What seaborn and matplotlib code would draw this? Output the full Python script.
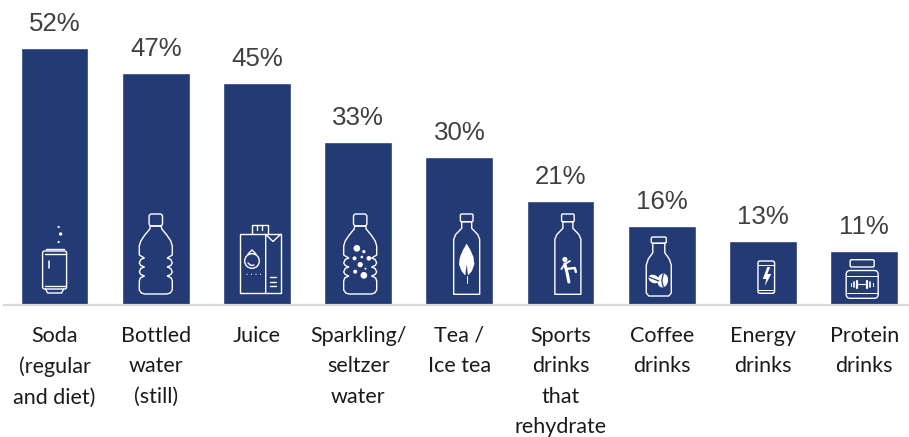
"""
Beverage share bar chart with small white drink icons inside the bars.
"""

import matplotlib
matplotlib.use("Agg")
import matplotlib.pyplot as plt
import seaborn as sns
from matplotlib.patches import Circle, Ellipse, FancyBboxPatch, Polygon
from matplotlib.transforms import Affine2D

CATEGORIES = [
    "Soda\n(regular\nand diet)",
    "Bottled\nwater\n(still)",
    "Juice",
    "Sparkling/\nseltzer\nwater",
    "Tea /\nIce tea",
    "Sports\ndrinks\nthat\nrehydrate",
    "Coffee\ndrinks",
    "Energy\ndrinks",
    "Protein\ndrinks",
]
VALUES = [52, 47, 45, 33, 30, 21, 16, 13, 11]

BAR_COLOR = "#243A75"
LINE_W = 1.0


def outline(ax, tr, pts, closed=False, lw=LINE_W):
    xs = [p[0] for p in pts]
    ys = [p[1] for p in pts]
    if closed:
        xs.append(xs[0])
        ys.append(ys[0])
    ax.plot(xs, ys, color="white", lw=lw, transform=tr, clip_on=False,
            solid_joinstyle="round", solid_capstyle="round")


def box(ax, tr, x0, y0, x1, y1, r=1.5):
    ax.add_patch(FancyBboxPatch((x0 + r, y0 + r), x1 - x0 - 2 * r, y1 - y0 - 2 * r,
                                boxstyle=f"round,pad={r},rounding_size={r}",
                                fc="none", ec="white", lw=LINE_W, transform=tr))


def dot(ax, tr, x, y, r):
    ax.add_patch(Circle((x, y), r, fc="white", ec="none", transform=tr))


def mirrored(half):
    return half + [(-x, y) for x, y in reversed(half)]


def ribbed_bottle(ax, tr):
    box(ax, tr, -6.7, 79, 6.7, 91, r=2.5)
    half = [(5.5, 79), (6, 76), (11, 70), (15, 64), (16.5, 59), (16.5, 50), (14, 48.5),
            (11.5, 47), (15, 45.5), (16.5, 42), (15, 39.5), (11.5, 38), (15, 36.5), (16.5, 33),
            (15, 30.5), (11.5, 29), (15.5, 27), (16.5, 24), (16.5, 15), (14.5, 12), (11, 11)]
    outline(ax, tr, mirrored(half), closed=True)


def soda_icon(ax, tr):
    box(ax, tr, -12, 16, 12, 54, r=2)
    outline(ax, tr, [(-9, 16), (-7, 12), (7, 12), (9, 16)])
    outline(ax, tr, [(-9, 56), (9, 56)])
    outline(ax, tr, [(-10, 19), (10, 19)])
    outline(ax, tr, [(-10, 51), (10, 51)])
    outline(ax, tr, [(-6, 37), (-6, 44)], lw=1.1)
    dot(ax, tr, 4, 63, 1.1)
    dot(ax, tr, 6, 71, 1.7)
    dot(ax, tr, 4, 78, 1.1)


def juice_icon(ax, tr):
    outline(ax, tr, [(-17, 11.7), (23.7, 11.7), (23.7, 70.7), (-17, 70.7)], closed=True)
    outline(ax, tr, [(8.7, 11.7), (8.7, 70.7), (16, 63.5), (23.7, 70.7)])
    outline(ax, tr, [(-4.7, 70.7), (-4.7, 80), (11, 80), (11, 70.7)])
    outline(ax, tr, [(0, 80), (0, 75)])
    outline(ax, tr, [(5, 80), (5, 75)])
    ax.add_patch(Circle((-5, 44), 7.3, fc="none", ec="white", lw=LINE_W, transform=tr))
    outline(ax, tr, [(-9, 51), (-5, 55), (-1, 51)])
    outline(ax, tr, [(-9, 42), (-6, 39.5), (-3, 40)])
    for dx in (-10, -5.5, -1, 3.5):
        dot(ax, tr, dx, 30.7, 0.6)
    for up in (28, 23.3, 18.7):
        outline(ax, tr, [(12.7, up), (19.3, up)])


def sparkling_icon(ax, tr):
    tr2 = Affine2D().translate(2, 0) + tr
    ribbed_bottle(ax, tr2)
    bubbles = [(1072, 142, 10), (1093, 152, 5), (1087, 168, 4), (1065, 172, 6), (1108, 172, 7),
               (1082, 191, 8), (1098, 203, 3), (1067, 212, 6), (1093, 223, 10)]
    for bx, by, br in bubbles:
        dot(ax, tr2, (bx - 1082) / 3, 104 - by / 3, br / 3)


def slim_bottle(ax, tr):
    box(ax, tr, -6.3, 83.3, 6.3, 91, r=1.2)
    half = [(5, 83.3), (5, 76.7), (11, 70.5), (13, 65.7), (13, 10.7)]
    outline(ax, tr, mirrored(half), closed=True)


def tea_icon(ax, tr):
    tr2 = Affine2D().translate(7.3, 0) + tr
    slim_bottle(ax, tr2)
    leaf = [(0, 61), (3.5, 55), (6.5, 48), (7.5, 41), (5, 34), (1.5, 30), (0.3, 40), (-0.3, 40),
            (-1.5, 30), (-5, 34), (-7.5, 41), (-6.5, 48), (-3.5, 55)]
    ax.add_patch(Polygon(leaf, fc="white", ec="white", lw=0.3, transform=tr2))
    outline(ax, tr2, [(0, 29), (0, 22)], lw=0.7)


def sports_icon(ax, tr):
    tr2 = Affine2D().translate(7.3, 0) + tr
    slim_bottle(ax, tr2)
    dot(ax, tr2, -3, 45.5, 2.6)
    outline(ax, tr2, [(-3, 41), (-1, 33), (1, 23)], lw=2.2)
    outline(ax, tr2, [(-2, 36), (7, 37), (8, 33)], lw=1.7)
    outline(ax, tr2, [(-3, 41), (-6.5, 36)], lw=1.3)
    outline(ax, tr2, [(-3, 41), (2, 44)], lw=1.3)


def coffee_icon(ax, tr):
    tr2 = Affine2D().translate(-3, 0) + tr
    box(ax, tr2, -7.5, 61.7, 7.5, 68, r=1.5)
    half = [(6, 61.7), (6, 52.3), (10.5, 46), (12.5, 40), (12.5, 12), (10, 9)]
    outline(ax, tr2, mirrored(half), closed=True)
    ax.add_patch(Ellipse((4, 24.5), 10.5, 14, angle=-10, fc="white", ec="none", transform=tr2))
    ax.plot([4.5, 3, 4.5], [31, 24.5, 18], color=BAR_COLOR, lw=0.9, transform=tr2)
    ax.add_patch(Ellipse((-5, 26), 11, 8, angle=-25, fc="white", ec="none", transform=tr2))
    ax.plot([-10, -5, 0], [28, 26, 24], color=BAR_COLOR, lw=0.9, transform=tr2)


def energy_icon(ax, tr):
    tr2 = Affine2D().translate(3.3, 0) + tr
    box(ax, tr2, -8.3, 11.7, 8.3, 44, r=2)
    outline(ax, tr2, [(-8, 40.5), (8, 40.5)], lw=0.7)
    outline(ax, tr2, [(-8, 15), (8, 15)], lw=0.7)
    bolt = [(1, 38), (-3.5, 26), (0, 26), (-1.5, 19), (5, 31), (1, 31), (4, 38)]
    ax.add_patch(Polygon(bolt, fc="white", ec="none", transform=tr2))


def protein_icon(ax, tr):
    tr2 = Affine2D().translate(-2, 0) + tr
    box(ax, tr2, -12, 38, 12, 45.3, r=1.5)
    box(ax, tr2, -16, 6.7, 16, 34.5, r=4)
    outline(ax, tr2, [(-16, 12), (16, 12)], lw=0.7)
    outline(ax, tr2, [(-16, 29), (16, 29)], lw=0.7)
    outline(ax, tr2, [(-4, 20.7), (4, 20.7)], lw=0.8)
    for sx in (-1, 1):
        outline(ax, tr2, [(sx * 5, 17), (sx * 5, 24.5)], lw=1.6)
        outline(ax, tr2, [(sx * 8, 18), (sx * 8, 23.5)], lw=1.2)
        outline(ax, tr2, [(sx * 11, 19.5), (sx * 11, 22)], lw=0.8)


def bottled_icon(ax, tr):
    ribbed_bottle(ax, tr)


ICONS = [soda_icon, bottled_icon, juice_icon, sparkling_icon, tea_icon,
         sports_icon, coffee_icon, energy_icon, protein_icon]

sns.set_theme(style="white")
plt.rcParams["font.family"] = ["Liberation Sans", "DejaVu Sans"]

fig = plt.figure(figsize=(9.09, 4.37), dpi=100)
ax = fig.add_axes([4 / 909, (437 - 305) / 437, 905 / 909, 305 / 437])

sns.barplot(x=CATEGORIES, y=VALUES, color=BAR_COLOR, saturation=1, width=0.67, ax=ax)

ax.set_xlim(-0.5, 8.443)
ax.set_ylim(0, 61.75)
ax.set_yticks([])
ax.set_ylabel("")
sns.despine(ax=ax, left=True)
ax.spines["bottom"].set_color("#D9D9D9")
ax.spines["bottom"].set_linewidth(1.6)

ax.bar_label(ax.containers[0], labels=[f"{v}%" for v in VALUES], padding=8.5,
             fontsize=18.6, color="#404040", clip_on=False)

ax.tick_params(axis="x", length=0, pad=15)
for label in ax.get_xticklabels():
    label.set_fontfamily(["Lato", "DejaVu Sans"])
    label.set_fontsize(15.5)
    label.set_color("#1A1A1A")
    label.set_linespacing(1.65)
    label.set_verticalalignment("top")

# icons are placed in pixels from the foot of each bar
fig.canvas.draw()
for i, icon in enumerate(ICONS):
    cx, base = ax.transData.transform((i, 0))
    icon(ax, Affine2D().translate(cx, base))

ax.set_xlim(-0.5, 8.443)
ax.set_ylim(0, 61.75)
fig.savefig("out.png", dpi=100)
